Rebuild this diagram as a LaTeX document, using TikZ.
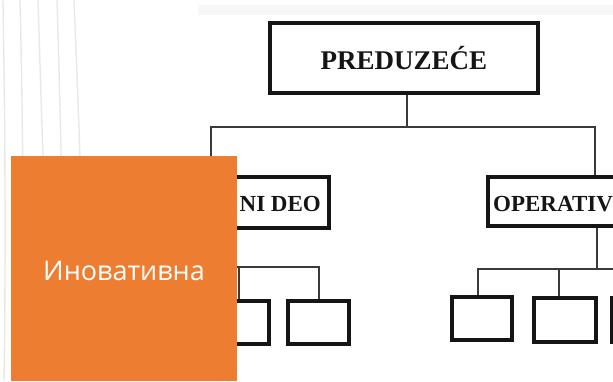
\documentclass[tikz,border=0pt]{standalone}
\usepackage{fontspec}
\setmainfont{Liberation Serif}
\newfontfamily\slidefont{Open Sans}
\definecolor{slideorange}{HTML}{ED7D31}
\definecolor{deco}{HTML}{E8E8E8}
\definecolor{band}{HTML}{F7F7F7}
\definecolor{ink}{HTML}{151515}
\definecolor{wire}{HTML}{3A3A3A}
\begin{document}
\begin{tikzpicture}[x=1pt,y=-1pt,
  orgbox/.style={draw=ink,line width=3.2pt,rectangle,inner sep=0pt},
  orgtext/.style={font=\bfseries\fontsize{23}{23}\selectfont,text=ink,inner sep=0pt},
  conn/.style={draw=wire,line width=2pt},
  decoline/.style={draw=deco,line width=1.4pt}]
\useasboundingbox (0,0) rectangle (613,381);
\clip (0,0) rectangle (613,381);
\fill[white] (0,0) rectangle (613,381);
% decorative background lines
\draw[decoline] (3,0) .. controls (5,120) and (6,250) .. (4,381);
\draw[decoline] (20,0) .. controls (23,120) and (24,250) .. (22,381);
\draw[decoline] (38,0) .. controls (41,100) and (43,150) .. (44,200);
\draw[decoline] (57,0) .. controls (60,100) and (61,150) .. (62,200);
\draw[decoline] (74,0) .. controls (78,100) and (80,150) .. (81,200);
% faint band
\fill[band] (198,5) rectangle (613,15);
% boxes
\node[orgbox,minimum width=268pt,minimum height=70pt,font=\bfseries\fontsize{27}{27}\selectfont,text=ink] (top) at (404,58) {PREDUZEĆE};
\node[orgbox,minimum width=179pt,minimum height=51pt] (left) at (239.5,202.5) {};
\node[orgtext,anchor=east] (lefttxt) at (321,204) {NI DEO};
\node[orgbox,minimum width=250pt,minimum height=49pt] (right) at (613,201.5) {};
\node[orgtext,anchor=west] (righttxt) at (493,204) {OPERATIV};
\node[orgbox,minimum width=60pt,minimum height=43pt] (la) at (239,322.5) {};
\node[orgbox,minimum width=61pt,minimum height=43pt] (lb) at (318.5,322.5) {};
\node[orgbox,minimum width=60pt,minimum height=43pt] (ra) at (482,318.5) {};
\node[orgbox,minimum width=62pt,minimum height=44pt] (rb) at (565,320) {};
\node[orgbox,minimum width=60pt,minimum height=44pt] (rc) at (642,320) {};
% connectors
\coordinate (topbus) at (407,127);
\coordinate (busL) at (211,127);
\coordinate (busR) at (595,127);
\draw[conn] (407,0 |- top.south) -- (topbus);
\draw[conn] (busL |- left.north) -- (busL) -- (busR) -- (busR |- right.north);
\coordinate (lbus) at (319,267);
\coordinate (lbusL) at (200,267);
\draw[conn] (lbusL |- left.south) -- (lbusL) -- (lbus) -- (lbus |- lb.north);
\draw[conn] (la.north) -- (la.north |- lbus);
\coordinate (rbus) at (597,269);
\coordinate (rbusL) at (478,269);
\coordinate (rbusR) at (642,269);
\draw[conn] (rbus |- right.south) -- (rbus);
\draw[conn] (rbusL |- ra.north) -- (rbusL) -- (rbusR) -- (rc.north);
\draw[conn] (559,269) -- (559,0 |- rb.north);
% orange panel
\node[fill=slideorange,minimum width=226pt,minimum height=225pt,inner sep=0pt,anchor=north west] (panel) at (11,156) {};
\node[text=white,font=\slidefont\fontsize{27}{27}\selectfont,inner sep=0pt] (title) at (124,271) {Иновативна};
\end{tikzpicture}
\end{document}
